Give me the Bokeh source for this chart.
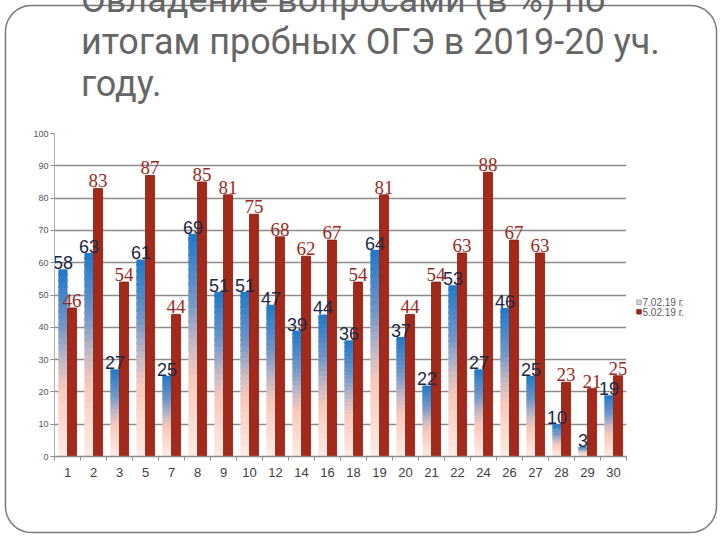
import numpy as np
from bokeh.plotting import figure
from bokeh.models import Range1d, FixedTicker
from bokeh.embed import file_html
from bokeh.resources import INLINE
from bokeh.core.properties import value

# ---------------- data ----------------
questions = ["1", "2", "3", "5", "7", "8", "9", "10", "12", "14", "16",
             "18", "19", "20", "21", "22", "24", "26", "27", "28", "29", "30"]
series_names = ["7.02.19 г.", "5.02.19 г."]
series_a = [58, 63, 27, 61, 25, 69, 51, 51, 47, 39, 44, 36, 64, 37, 22, 53, 27, 46, 25, 10, 3, 19]
series_b = [46, 83, 54, 87, 44, 85, 81, 75, 68, 62, 67, 54, 81, 44, 54, 63, 88, 67, 63, 23, 21, 25]
y_ticks = list(range(0, 101, 10))
title_lines = ["Овладение вопросами (в %) по",
               "итогам пробных ОГЭ в 2019-20 уч.",
               "году."]

# ---------------- figure ----------------
W, H = 720, 540
L, R, T, B = 54, 94, 133, 84
n = len(questions)
idx = np.arange(n)

p = figure(width=W, height=H, x_range=Range1d(-0.5, n - 0.5), y_range=Range1d(0, 100),
           output_backend="svg", toolbar_location=None,
           min_border_left=L, min_border_right=R, min_border_top=T, min_border_bottom=B,
           background_fill_color="white", border_fill_color="white")
p.outline_line_color = None
# pixel helper ranges for decoration (page pixels, y downward)
p.extra_x_ranges = {"px": Range1d(L, W - R)}
p.extra_y_ranges = {"px": Range1d(H - B, T)}

# ---------------- axes / grid ----------------
p.xgrid.visible = False
p.ygrid.ticker = FixedTicker(ticks=y_ticks)
p.ygrid.grid_line_color = "#8c8c8c"
p.ygrid.grid_line_width = 1.5

xa = p.xaxis[0]
xa.ticker = FixedTicker(ticks=list(idx), minor_ticks=[i - 0.5 for i in range(n + 1)])
xa.major_label_overrides = {int(i): q for i, q in zip(idx, questions)}
xa.major_tick_line_color = None
xa.major_tick_out = 0
xa.major_tick_in = 0
xa.minor_tick_line_color = "#8c8c8c"
xa.minor_tick_out = 4
xa.minor_tick_in = 0
xa.axis_line_color = "#8c8c8c"
xa.axis_line_width = 1.5
xa.major_label_text_font = "Liberation Sans"
xa.major_label_text_font_size = "13px"
xa.major_label_text_color = "#404040"
xa.major_label_standoff = 7

ya = p.yaxis[0]
ya.ticker = FixedTicker(ticks=y_ticks)
ya.minor_tick_line_color = None
ya.major_tick_out = 4
ya.major_tick_in = 0
ya.major_tick_line_color = "#8c8c8c"
ya.axis_line_color = "#b0b0b0"
ya.major_label_text_font = "Liberation Sans"
ya.major_label_text_font_size = "9px"
ya.major_label_text_color = "#555555"
ya.major_label_standoff = 2

# ---------------- bars ----------------
bw = 0.35
xa_pos = idx - bw / 2
xb_pos = idx + bw / 2

# gradient for first series, simulated with stacked segments (t=0 top, t=1 bottom)
stops_t = [0.0, 0.3, 0.5, 0.65, 1.0]
stops_c = [(31, 120, 200), (112, 150, 200), (200, 186, 196), (248, 202, 188), (253, 236, 229)]
N = 30
va = np.array(series_a, dtype=float)
for k in range(N):
    t = 1 - (k + 0.5) / N
    rgb = [int(round(np.interp(t, stops_t, [c[j] for c in stops_c]))) for j in range(3)]
    col = "#%02x%02x%02x" % tuple(rgb)
    bot = va * k / N
    top = np.minimum(va, va * (k + 1.4) / N)
    p.vbar(x=xa_pos, width=bw, bottom=bot, top=top, fill_color=col, line_color=None)

p.vbar(x=xb_pos, width=bw, bottom=0, top=series_b, fill_color="#a3291b",
       line_color="#7f1d12", line_width=0.8)

# value labels
p.text(x=xa_pos, y=series_a, text=[str(v) for v in series_a], text_align="center",
       text_baseline="bottom", y_offset=0, text_font=value("Liberation Sans"),
       text_font_size="18px", text_color="#1c2946")
p.text(x=xb_pos, y=series_b, text=[str(v) for v in series_b], text_align="center",
       text_baseline="bottom", y_offset=-1, text_font=value("Liberation Serif"),
       text_font_size="19px", text_color="#9a2a22")

# ---------------- legend (manual, outside plot area) ----------------
p.rect(x=[638.5, 638.5], y=[301.8, 311.3], width=4.5, height=4.5,
       fill_color=["#d4d6e2", "#a3291b"], line_color=["#9a9a9a", "#7f1d12"], line_width=0.8,
       x_range_name="px", y_range_name="px", level="overlay")
p.text(x=[642, 642], y=[302, 311.5], text=series_names, text_baseline="middle",
       text_font=value("Liberation Sans"), text_font_size="10px", text_color="#5a5a5a",
       x_range_name="px", y_range_name="px", level="overlay")

# ---------------- slide frame (rounded rectangle) ----------------
x0, y0, x1, y1, r = 5, 5, 716, 532, 26
a = np.linspace(0, np.pi / 2, 16)
xs = np.concatenate([x0 + r - r * np.cos(a), x1 - r + r * np.sin(a),
                     x1 - r + r * np.cos(a), x0 + r - r * np.sin(a), [x0]])
ys = np.concatenate([y0 + r - r * np.sin(a), y0 + r - r * np.cos(a),
                     y1 - r + r * np.sin(a), y1 - r + r * np.cos(a), [y0 + r]])
p.line(xs, ys, line_color="#7a7a7a", line_width=1.5,
       x_range_name="px", y_range_name="px", level="overlay")

# ---------------- title ----------------
p.text(x=[80.5] * len(title_lines), y=[-1 + 42 * i for i in range(len(title_lines))],
       text=title_lines, text_baseline="alphabetic",
       text_font=value("Roboto"), text_font_size="36px", text_color="#666666",
       x_range_name="px", y_range_name="px", level="overlay")

open("out.html", "w").write(file_html(p, INLINE))
